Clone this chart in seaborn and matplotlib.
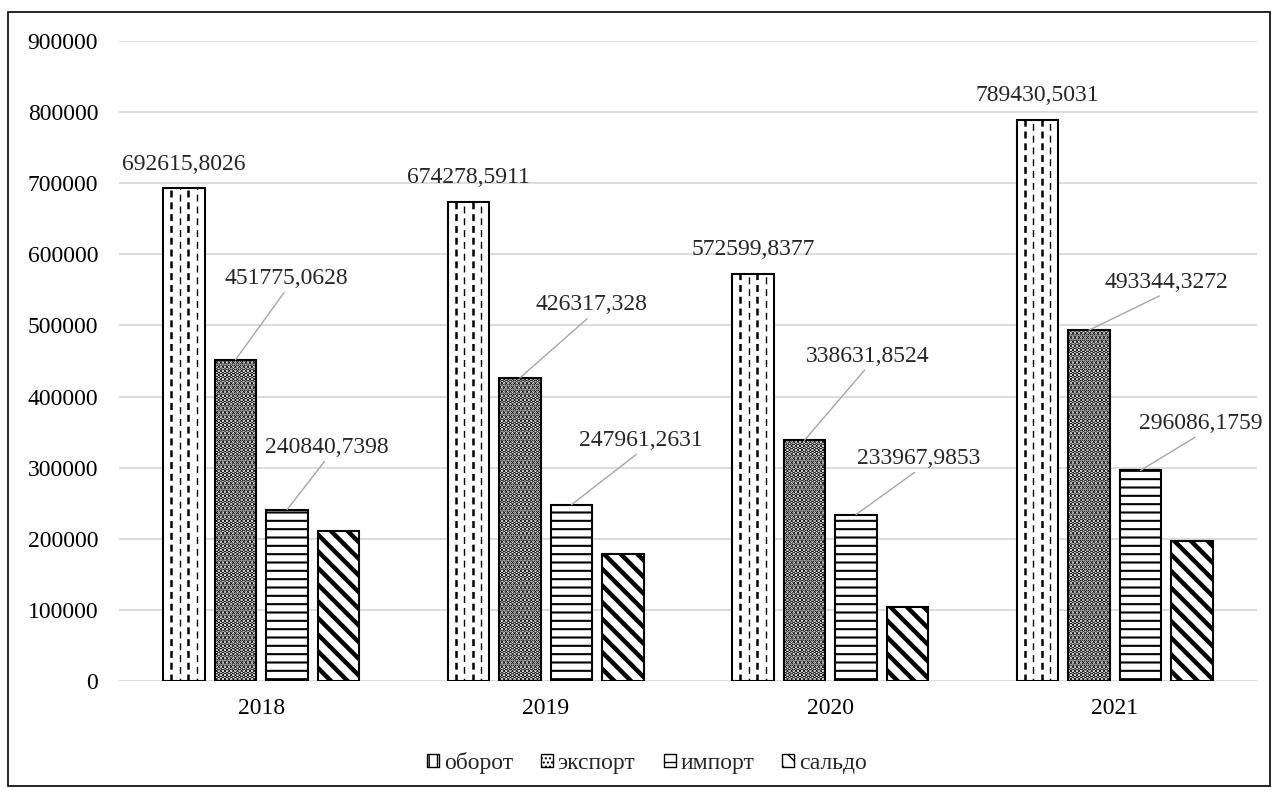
import numpy as np
import pandas as pd
import matplotlib
matplotlib.use("Agg")
import matplotlib.pyplot as plt
from matplotlib.patches import Patch, Rectangle
import seaborn as sns

# данные
years = ["2018", "2019", "2020", "2021"]
series = ["оборот", "экспорт", "импорт", "сальдо"]
oborot = [692615.8026, 674278.5911, 572599.8377, 789430.5031]
eksport = [451775.0628, 426317.328, 338631.8524, 493344.3272]
import_ = [240840.7398, 247961.2631, 233967.9853, 296086.1759]
saldo = [210934.323, 178356.0649, 104663.8671, 197258.1513]

label_text = {
    "оборот": ["692615,8026", "674278,5911", "572599,8377", "789430,5031"],
    "экспорт": ["451775,0628", "426317,328", "338631,8524", "493344,3272"],
    "импорт": ["240840,7398", "247961,2631", "233967,9853", "296086,1759"],
}

# смещения подписей (пиксели) относительно верха столбца
export_offsets = [(51, 81), (71, 73), (63, 84), (77, 48)]
import_offsets = [(40, 62), (69, 64), (63, 56), (60, 47)]

df = pd.DataFrame({
    "year": [y for s in series for y in years],
    "series": [s for s in series for _ in years],
    "value": oborot + eksport + import_ + saldo,
})

sns.set_style("white")
plt.rcParams["font.family"] = ["Liberation Serif", "DejaVu Serif"]
plt.rcParams["lines.scale_dashes"] = False

fig = plt.figure(figsize=(12.76, 7.91), dpi=100)
ax = fig.add_axes([119 / 1276, 1 - 681 / 791, (1257 - 119) / 1276, 640 / 791])

sns.barplot(data=df, x="year", y="value", hue="series", order=years, hue_order=series,
            palette=["white"] * 4, edgecolor="black", linewidth=1.5,
            width=0.724, gap=0.19, legend=False, ax=ax, zorder=3)

hatches = [None, "....", "--", "\\\\"]
hatch_lw = [1, 2.4, 1.5, 3.2]
for cont, h, hl in zip(ax.containers, hatches, hatch_lw):
    for bar in cont:
        if h:
            bar.set_hatch(h)
            if hasattr(bar, "set_hatch_linewidth"):
                bar.set_hatch_linewidth(hl)

# пунктирные вертикали для "оборот"
for bar in ax.containers[0]:
    x0, w, h = bar.get_x(), bar.get_width(), bar.get_height()
    for i, frac in enumerate((0.2, 0.4, 0.6, 0.8)):
        lw = 1.8 if i % 2 == 0 else 1.0
        off = 0 if i % 2 == 0 else 3
        ax.vlines(x0 + frac * w, 0, h, colors="black", linewidth=lw,
                  linestyles=[(off, (5, 3.5))], zorder=4)

ax.set_xlim(-0.5, 3.5)
ax.set_ylim(0, 900000)
ax.set_yticks(np.arange(0, 900001, 100000))
ax.set_yticklabels([str(v) for v in range(0, 900001, 100000)])
ax.grid(axis="y", color="#d9d9d9", linewidth=1.3, zorder=0)
ax.set_axisbelow(True)
for s in ax.spines.values():
    s.set_visible(False)
ax.tick_params(axis="both", length=0, labelsize=17, colors="black")
ax.tick_params(axis="y", pad=15)
ax.tick_params(axis="x", pad=12)
ax.set_xlabel("")
ax.set_ylabel("")

# подписи "оборот" над столбцами
for bar, txt in zip(ax.containers[0], label_text["оборот"]):
    ax.annotate(txt, xy=(bar.get_x() + bar.get_width() / 2, bar.get_height()),
                xytext=(0, 24), textcoords="offset pixels",
                ha="center", va="center", fontsize=17, zorder=5)

# подписи с выносными линиями
for cont, key, offs in [(ax.containers[1], "экспорт", export_offsets),
                        (ax.containers[2], "импорт", import_offsets)]:
    for bar, txt, (dx, dy) in zip(cont, label_text[key], offs):
        ax.annotate(txt, xy=(bar.get_x() + bar.get_width() / 2, bar.get_height()),
                    xytext=(dx, dy), textcoords="offset pixels",
                    ha="center", va="center", fontsize=17, zorder=5,
                    arrowprops=dict(arrowstyle="-", color="#a6a6a6", lw=1.0,
                                    relpos=(0.5, 0.0), shrinkA=0, shrinkB=0))

handles = [Patch(facecolor="white", edgecolor="black", hatch=h if h else "||", label=s)
           for s, h in zip(series, hatches)]
fig.legend(handles=handles, loc="center", bbox_to_anchor=(0.507, 1 - 763 / 791), ncol=4,
           frameon=False, fontsize=17, handlelength=0.5, handleheight=0.5,
           handletextpad=0.2, columnspacing=1.2)

fig.patches.append(Rectangle((8 / 1276, 5 / 791), 1262 / 1276, 774 / 791,
                             transform=fig.transFigure, fill=False,
                             edgecolor="black", linewidth=1.2))

fig.savefig("out.png", dpi=100)
